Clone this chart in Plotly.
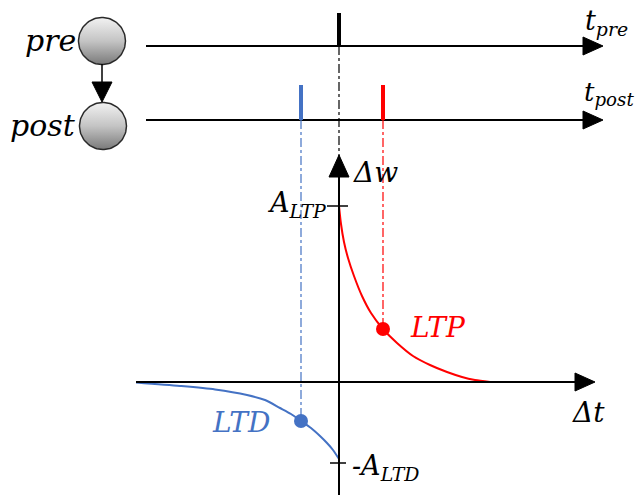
import plotly.graph_objects as go
import numpy as np

# spike times (px along the time axis)
t_pre = [339]
t_post_ltd = [301]
t_post_ltp = [383]

# curve points (x px, y px)
ltp_x = [339, 341, 344, 348, 354, 362, 371, 383, 397, 413, 430, 447, 462, 475, 490]
ltp_y = [206, 224, 242, 258, 276, 296, 313, 329, 343, 356, 365, 372, 377, 380, 382]
ltd_x = [136, 180, 215, 247, 265, 280, 291, 301, 311, 320, 327, 333, 339]
ltd_y = [382.5, 386, 389.5, 395, 400, 408, 414, 421, 428, 436, 443, 450, 459]

BLUE = "#4472C4"
RED = "#FF0000"
SERIF = "DejaVu Serif"

fig = go.Figure()


def tri(xs, ys, color="black"):
    fig.add_trace(go.Scatter(x=xs, y=ys, mode="lines", fill="toself",
                             fillcolor=color, line=dict(color=color, width=1),
                             hoverinfo="skip", showlegend=False))


def seg(x0, y0, x1, y1, color="black", width=2, dash="solid"):
    fig.add_shape(type="line", x0=x0, y0=y0, x1=x1, y1=y1, xref="x", yref="y",
                  line=dict(color=color, width=width, dash=dash))


# neurons
th = np.linspace(0, 2 * np.pi, 100)
for cx, cy in [(102, 41), (103, 126)]:
    fig.add_trace(go.Scatter(x=cx + 23.5 * np.cos(th), y=cy + 23.5 * np.sin(th),
                             mode="lines", fill="toself",
                             fillgradient=dict(type="vertical",
                                               colorscale=[[0, "#7a7a7a"], [0.5, "#c4c4c4"],
                                                           [1, "#f2f2f2"]]),
                             line=dict(color="#2a2a2a", width=1.5),
                             hoverinfo="skip", showlegend=False))
seg(102, 64, 102, 84, width=1.5)
tri([92, 112, 102, 92], [82, 82, 102, 82])

# timelines
for y in [46, 120]:
    seg(146, y, 586, y)
    tri([583, 583, 603, 583], [y - 9, y + 9, y, y - 9])

# spikes
for t in t_pre:
    seg(t, 13, t, 46, width=4)
    seg(t, 46, t, 158, width=1.2, dash="dashdot")
for t in t_post_ltd:
    seg(t, 85, t, 120, color=BLUE, width=4)
for t in t_post_ltp:
    seg(t, 85, t, 120, color=RED, width=4)

# projections down to the curves
seg(t_post_ltd[0], 120, t_post_ltd[0], ltd_y[7], color=BLUE, width=1.2, dash="dashdot")
seg(t_post_ltp[0], 120, t_post_ltp[0], ltp_y[7], color=RED, width=1.2, dash="dashdot")

# axes of the STDP window
seg(136, 382, 580, 382)
tri([575, 575, 595, 575], [373, 391, 382, 373])
seg(339, 495, 339, 175)
tri([329, 349, 339, 329], [177, 177, 155, 177])
seg(327, 206, 348, 206, width=1.5)
seg(330, 463, 346, 463, width=1.5)

# curves
fig.add_trace(go.Scatter(x=ltp_x, y=ltp_y, mode="lines",
                         line=dict(color=RED, width=2, shape="spline", smoothing=0.7),
                         hoverinfo="skip", showlegend=False))
fig.add_trace(go.Scatter(x=ltd_x, y=ltd_y, mode="lines",
                         line=dict(color=BLUE, width=2, shape="spline", smoothing=0.7),
                         hoverinfo="skip", showlegend=False))
fig.add_trace(go.Scatter(x=t_post_ltp, y=[ltp_y[7]], mode="markers",
                         marker=dict(color=RED, size=14), hoverinfo="skip", showlegend=False))
fig.add_trace(go.Scatter(x=t_post_ltd, y=[ltd_y[7]], mode="markers",
                         marker=dict(color=BLUE, size=14), hoverinfo="skip", showlegend=False))

# labels
labels = [
    (78, 40, "<i>pre</i>", "right", "black", 30),
    (78, 125, "<i>post</i>", "right", "black", 30),
    (583, 22, "<i>t<sub>pre</sub></i>", "left", "black", 27),
    (582, 93, "<i>t<sub>post</sub></i>", "left", "black", 26),
    (351, 172, "<i>Δw</i>", "left", "black", 28),
    (328, 204, "<i>A<sub>LTP</sub></i>", "right", "black", 27),
    (350, 467, "<i>-A<sub>LTD</sub></i>", "left", "black", 27),
    (570, 412, "<i>Δt</i>", "left", "black", 28),
    (408, 327, "<i>LTP</i>", "left", RED, 28),
    (210, 422, "<i>LTD</i>", "left", BLUE, 28),
]
for x, y, txt, anchor, col, size in labels:
    fig.add_annotation(x=x, y=y, text=txt, showarrow=False, xanchor=anchor, yanchor="middle",
                       font=dict(family=SERIF, size=size, color=col))

fig.update_xaxes(range=[0, 635], visible=False, fixedrange=True)
fig.update_yaxes(range=[495, 0], visible=False, fixedrange=True)
fig.update_layout(width=635, height=495, margin=dict(l=0, r=0, t=0, b=0),
                  plot_bgcolor="white", paper_bgcolor="white", showlegend=False)

fig.write_html("out.html", config={"displayModeBar": False},
               post_script="document.body.style.margin='0';document.body.style.overflow='hidden';")
